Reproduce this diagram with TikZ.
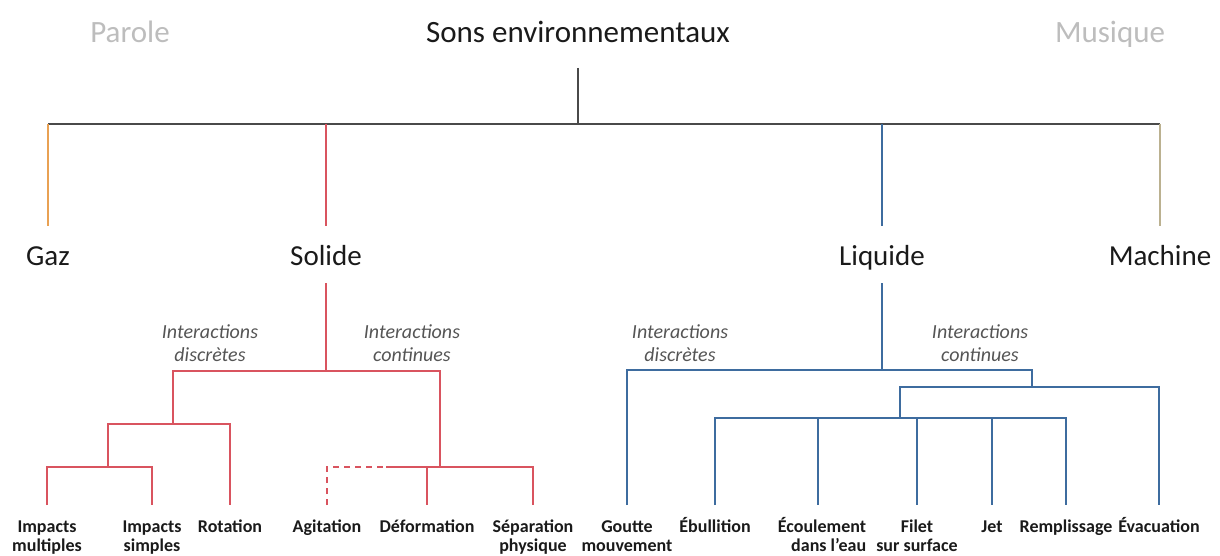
\documentclass[tikz,border=0pt]{standalone}
\usepackage{fontspec}
\setmainfont{Carlito}
\definecolor{gazc}{HTML}{E9A153}
\definecolor{solc}{HTML}{D9545F}
\definecolor{liqc}{HTML}{3E6C9F}
\definecolor{macc}{HTML}{BBB190}
\definecolor{topc}{HTML}{4A4A4A}
\definecolor{pale}{HTML}{BDBDBD}
\definecolor{itc}{HTML}{555555}
\definecolor{txt}{HTML}{1A1A1A}
\begin{document}
\begin{tikzpicture}[x=1pt,y=-1pt,
  every node/.style={inner sep=0pt, text=txt},
  ttl/.style={font=\fontsize{31}{36}\selectfont, anchor=base},
  side/.style={ttl, text=pale},
  cat/.style={font=\fontsize{29}{34}\selectfont, anchor=base},
  inter/.style={font=\fontsize{20}{23}\selectfont\itshape, text=itc, align=center, anchor=base},
  leaf/.style={font=\fontsize{18}{19}\selectfont\bfseries, align=center, anchor=base},
  link/.style={line width=2.3pt},
  topl/.style={link, draw=topc},
  gazl/.style={link, draw=gazc},
  soll/.style={link, draw=solc},
  liql/.style={link, draw=liqc},
  macl/.style={link, draw=macc},
  dashl/.style={link, draw=solc, dash pattern=on 6pt off 5pt}]
\useasboundingbox (0,0) rectangle (1220,556);

% titles
\node[side] (parole) at (130,43) {Parole};
\node[ttl] (title) at (578,43) {Sons environnementaux};
\node[side] (musique) at (1110,43) {Musique};

% categories
\node[cat] (gaz) at (48,265) {Gaz};
\node[cat] (solide) at (326,265) {Solide};
\node[cat] (liquide) at (882,265) {Liquide};
\node[cat] (machine) at (1160,265) {Machine};

% interaction labels (base = last line)
\node[inter] (sdisc) at (210,361) {Interactions\\discrètes};
\node[inter] (scont) at (412,361) {Interactions\\continues};
\node[inter] (ldisc) at (680,361) {Interactions\\discrètes};
\node[inter] (lcont) at (980,361) {Interactions\\continues};

% leaves (one-line: base 532; two-line: base of last line 551)
\node[leaf] (imul) at (47,551) {Impacts\\multiples};
\node[leaf] (isim) at (152,551) {Impacts\\simples};
\node[leaf] (rot) at (230,532) {Rotation};
\node[leaf] (agi) at (327,532) {Agitation};
\node[leaf] (def) at (427,532) {Déformation};
\node[leaf] (sep) at (533,551) {Séparation\\physique};
\node[leaf] (gou) at (627,551) {Goutte\\mouvement};
\node[leaf] (ebu) at (715,532) {Ébullition};
\node[leaf, align=right] (eco) at (822,551) {Écoulement\\dans l’eau};
\node[leaf] (fil) at (917,551) {Filet\\sur surface};
\node[leaf] (jet) at (992,532) {Jet};
\node[leaf] (rem) at (1066,532) {Remplissage};
\node[leaf] (eva) at (1159,532) {Évacuation};

% levels
\coordinate (yR) at (0,68);
\coordinate (yT) at (0,124);
\coordinate (yCe) at (0,226);
\coordinate (yCs) at (0,283);
\coordinate (yS1) at (0,371);
\coordinate (yS2) at (0,424);
\coordinate (yS3) at (0,467);
\coordinate (yL1) at (0,370);
\coordinate (yL2) at (0,387);
\coordinate (yL3) at (0,418);
\coordinate (yB) at (0,505);
% junction columns
\coordinate (sA) at (173,0);
\coordinate (sB) at (440,0);
\coordinate (sC) at (108,0);
\coordinate (sD) at (386,0);
\coordinate (lA) at (1032,0);
\coordinate (lB) at (900,0);
\coordinate (ecoC) at (818,0);

% top level
\draw[topl] (title |- yR) -- (title |- yT);
\draw[topl] (gaz |- yT) -- (machine |- yT);
\draw[gazl] (gaz |- yT) -- (gaz |- yCe);
\draw[soll] (solide |- yT) -- (solide |- yCe);
\draw[liql] (liquide |- yT) -- (liquide |- yCe);
\draw[macl] (machine |- yT) -- (machine |- yCe);

% solid tree
\draw[soll] (solide |- yCs) -- (solide |- yS1);
\draw[soll] (sA |- yS2) -- (sA |- yS1) -- (sB |- yS1) -- (sB |- yS3);
\draw[soll] (sC |- yS3) -- (sC |- yS2) -- (rot |- yS2) -- (rot |- yB);
\draw[soll] (imul |- yB) -- (imul |- yS3) -- (isim |- yS3) -- (isim |- yB);
\draw[dashl] (agi |- yB) -- (agi |- yS3) -- (sD |- yS3);
\draw[soll] (sD |- yS3) -- (sep |- yS3) -- (sep |- yB);
\draw[soll] (def |- yS3) -- (def |- yB);

% liquid tree
\draw[liql] (liquide |- yCs) -- (liquide |- yL1);
\draw[liql] (gou |- yB) -- (gou |- yL1) -- (lA |- yL1) -- (lA |- yL2);
\draw[liql] (lB |- yL3) -- (lB |- yL2) -- (eva |- yL2) -- (eva |- yB);
\draw[liql] (ebu |- yB) -- (ebu |- yL3) -- (rem |- yL3) -- (rem |- yB);
\draw[liql] (ecoC |- yL3) -- (ecoC |- yB);
\draw[liql] (fil |- yL3) -- (fil |- yB);
\draw[liql] (jet |- yL3) -- (jet |- yB);
\end{tikzpicture}
\end{document}
